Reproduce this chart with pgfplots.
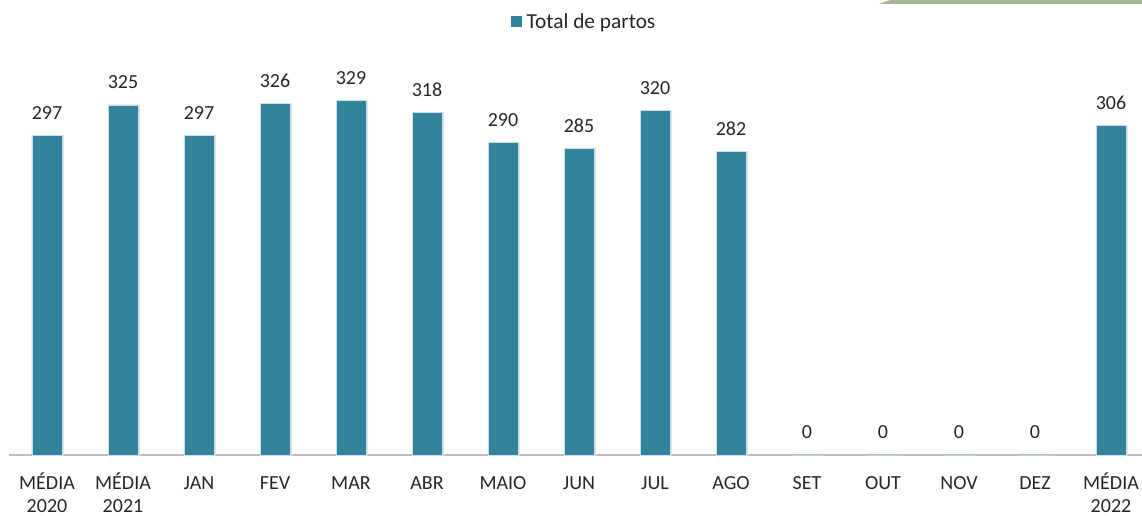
\documentclass[border=0pt]{standalone}
\usepackage{pgfplots}
\pgfplotsset{compat=1.18}
\usepackage{fontspec}
\setmainfont{Carlito}
\definecolor{barteal}{RGB}{49,132,155}
\definecolor{txt}{RGB}{38,38,38}
\definecolor{deco}{RGB}{168,180,150}
\newcommand\T{\rule{0pt}{12pt}}
\pgfplotstableread{
x y
0 297
1 325
2 297
3 326
4 329
5 318
6 290
7 285
8 320
9 282
10 0
11 0
12 0
13 0
14 306
}\partos
\begin{document}
\begin{tikzpicture}
\useasboundingbox (-6.75pt,-45.75pt) rectangle (849.75pt,341.25pt);
\begin{axis}[
  scale only axis,
  width=855pt, height=339.3pt,
  xmin=-0.5, xmax=14.5,
  ymin=0, ymax=420,
  axis x line=bottom,
  axis y line=none,
  x axis line style={-, draw=black!25, line width=0.8pt},
  xtick=data,
  major tick length=0pt,
  xticklabels={{\T MÉDIA\\2020},{\T MÉDIA\\2021},\T JAN,\T FEV,\T MAR,\T ABR,\T MAIO,\T JUN,\T JUL,\T AGO,\T SET,\T OUT,\T NOV,\T DEZ,{\T MÉDIA\\2022}},
  xticklabel style={align=center, anchor=north, inner sep=0pt, yshift=-13.5pt, font=\fontsize{15}{17}\selectfont, text=txt},
  ybar, bar width=22.5pt,
  /pgf/number format/assume math mode=true,
  legend style={at={(rel axis cs:0.505,0.958)}, anchor=center, draw=none, fill=none,
    font=\fontsize{16}{19}\selectfont, text=txt, legend columns=1,
    /tikz/every even column/.append style={column sep=0pt}},
  legend image code/.code={\fill[barteal] (0pt,-3.7pt) rectangle (7.4pt,3.7pt);},
  clip=false,
]
\addplot[fill=black!12, draw=none, bar shift=1.5pt, forget plot] table[x=x,y=y]{\partos};
\addplot[fill=barteal, draw=white!75!barteal, line width=0.6pt,
  nodes near coords,
  nodes near coords style={anchor=base, yshift=12pt, inner sep=0pt, font=\fontsize{15}{18}\selectfont, text=txt},
] table[x=x,y=y]{\partos};
\legend{\hspace{1.5pt}Total de partos}
\end{axis}
\fill[deco] (652.5pt,338.25pt) -- (660.75pt,341.25pt) -- (849.75pt,341.25pt) -- (849.75pt,338.25pt) -- cycle;
\end{tikzpicture}
\end{document}
